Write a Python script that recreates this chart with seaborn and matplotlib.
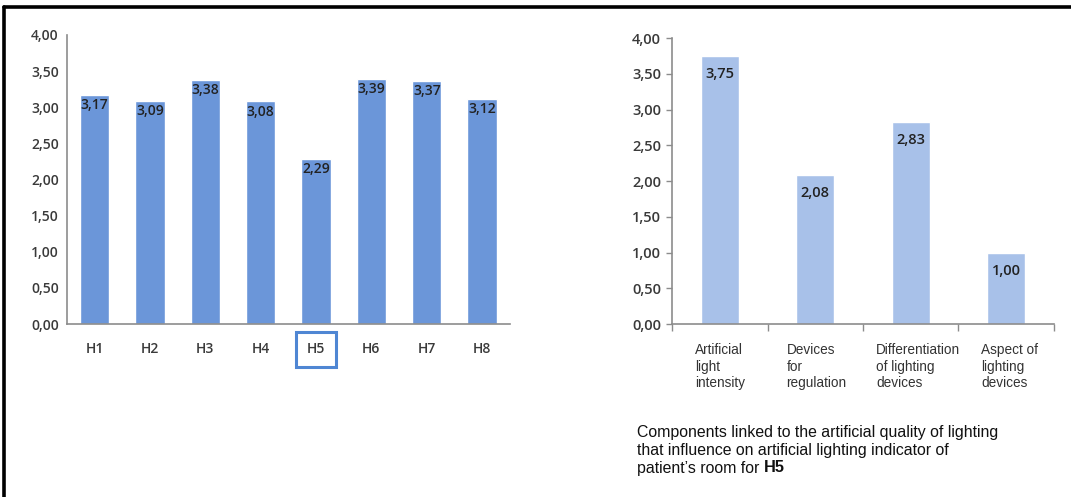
import seaborn as sns
import matplotlib.pyplot as plt
import pandas as pd
from matplotlib.lines import Line2D

# ---- data ----
hospitals = ["H1", "H2", "H3", "H4", "H5", "H6", "H7", "H8"]
hospital_scores = [3.17, 3.09, 3.38, 3.08, 2.29, 3.39, 3.37, 3.12]
components = ["Artificial\nlight\nintensity", "Devices\nfor\nregulation",
              "Differentiation\nof lighting\ndevices", "Aspect of\nlighting\ndevices"]
component_scores = [3.75, 2.08, 2.83, 1.00]
y_ticks = [0.0, 0.5, 1.0, 1.5, 2.0, 2.5, 3.0, 3.5, 4.0]
highlight = "H5"
caption_lines = ["Components linked to the artificial quality of lighting",
                 "that influence on artificial lighting indicator of",
                 "patient\u2019s room for "]

sns.set_theme(style="white")
plt.rcParams["font.family"] = ["Liberation Sans", "DejaVu Sans"]

fig = plt.figure(figsize=(10.71, 4.97), dpi=100)
ax1 = fig.add_axes([0.0626, 0.348, 0.4134, 0.5816])
ax2 = fig.add_axes([0.6275, 0.348, 0.3565, 0.5755])

num_font = dict(family=["Open Sans", "DejaVu Sans"], fontweight="semibold")
fmt = lambda v: f"{v:.2f}".replace(".", ",")

# ---- left chart ----
df1 = pd.DataFrame({"h": hospitals, "v": hospital_scores})
sns.barplot(data=df1, x="h", y="v", color="#6B96D9", saturation=1, width=0.53, ax=ax1)
ax1.set_ylim(0, 4)
ax1.set_xlim(-0.5, len(hospitals) - 0.5)
ax1.set_yticks(y_ticks)
ax1.set_yticklabels([fmt(t) for t in y_ticks], fontsize=10, color="#3a3a3a", **num_font)
ax1.set_xlabel("")
ax1.set_ylabel("")
ax1.tick_params(axis="both", length=0)
ax1.tick_params(axis="y", pad=6)
ax1.tick_params(axis="x", pad=13)
for lab in ax1.get_xticklabels():
    lab.set_fontsize(10)
    lab.set_color("#3a3a3a")
    lab.set_fontfamily(["Open Sans", "DejaVu Sans"])
    lab.set_fontweight("semibold")
    if lab.get_text() == highlight:
        lab.set_bbox(dict(boxstyle="square,pad=0.75", fc="white", ec="#4F86D3", lw=2.2))
for s in ["top", "right"]:
    ax1.spines[s].set_visible(False)
for s in ["left", "bottom"]:
    ax1.spines[s].set_color("#8c8c8c")
    ax1.spines[s].set_linewidth(1.2)
for i, v in enumerate(hospital_scores):
    ax1.annotate(fmt(v), xy=(i, v), xytext=(0, -7.5), textcoords="offset points",
                 ha="center", va="center", fontsize=10, color="#222222", **num_font)

# ---- right chart ----
df2 = pd.DataFrame({"c": components, "v": component_scores})
sns.barplot(data=df2, x="c", y="v", color="#A8C1E9", saturation=1, width=0.4, ax=ax2)
ax2.set_ylim(0, 4)
ax2.set_xlim(-0.5, len(components) - 0.5)
ax2.set_yticks(y_ticks)
ax2.set_yticklabels([fmt(t) for t in y_ticks], fontsize=10.5, color="#3a3a3a", **num_font)
ax2.set_xlabel("")
ax2.set_ylabel("")
ax2.set_xticks([i - 0.5 for i in range(len(components) + 1)])
ax2.set_xticklabels([])
ax2.tick_params(axis="x", direction="out", length=5, width=1, color="#8c8c8c", bottom=True)
ax2.tick_params(axis="y", direction="out", length=4, width=1, color="#8c8c8c", left=True, pad=4)
for s in ["top", "right"]:
    ax2.spines[s].set_visible(False)
for s in ["left", "bottom"]:
    ax2.spines[s].set_color("#8c8c8c")
    ax2.spines[s].set_linewidth(1.2)
label_shift = [-0.26, -0.30, -0.36, -0.26]
for i, (c, v) in enumerate(zip(components, component_scores)):
    ax2.annotate(fmt(v), xy=(i, v), xytext=(0, -13), textcoords="offset points",
                 ha="center", va="center", fontsize=10.5, color="#222222", **num_font)
    ax2.annotate(c, xy=(i + label_shift[i], 0), xycoords=("data", "axes fraction"),
                 xytext=(0, -13.5), textcoords="offset points",
                 ha="left", va="top", fontsize=9.8, color="#333333", linespacing=1.25)

# ---- caption ----
cap_x = 0.5948
cap_ys = [1 - 432 / 497, 1 - 450 / 497, 1 - 468 / 497]
texts = [fig.text(cap_x, y, line, fontsize=11.4, color="#111111", ha="left", va="center")
         for line, y in zip(caption_lines, cap_ys)]
ax2.annotate(highlight, xy=(1, 0.5), xycoords=texts[-1], ha="left", va="center",
             fontsize=11.8, fontweight="bold", color="#111111", annotation_clip=False)

# ---- frame lines (top and left) ----
fig.add_artist(Line2D([0.0037, 1.0], [0.986, 0.986], transform=fig.transFigure,
                      color="black", lw=2.6))
fig.add_artist(Line2D([0.0037, 0.0037], [0.0, 0.986], transform=fig.transFigure,
                      color="black", lw=2.6))

fig.savefig("out.png", dpi=100)
